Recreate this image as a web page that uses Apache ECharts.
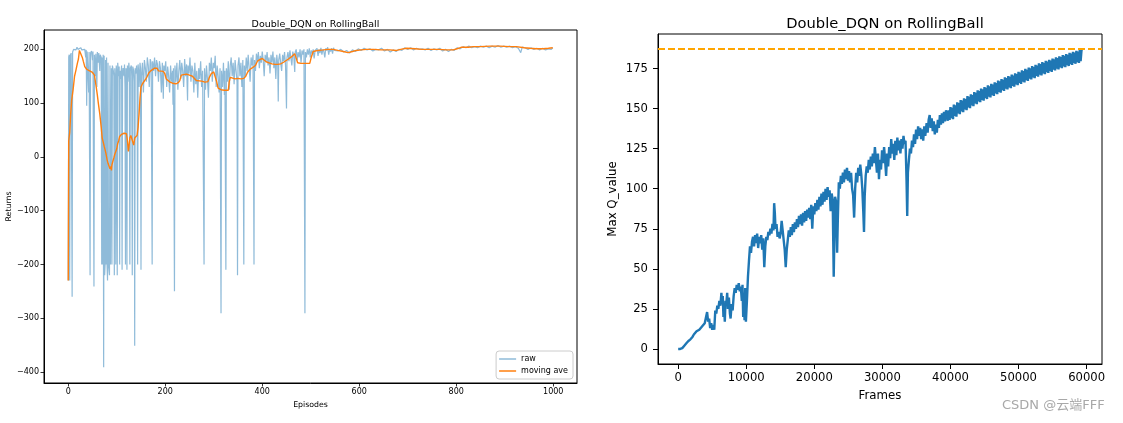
<!DOCTYPE html>
<html>
<head>
<meta charset="utf-8">
<script src="https://cdn.jsdelivr.net/npm/echarts@6/dist/echarts.min.js"></script>
<style>
html,body{margin:0;padding:0;background:#fff;}
#c{width:1123px;height:423px;}
</style>
</head>
<body>
<div id="c"></div>
<script>
// ---------- Left chart: returns per episode ----------
const leftTitle = 'Double_DQN on RollingBall';
const rightTitle = 'Double_DQN on RollingBall';
const leftXTicks = [0, 200, 400, 600, 800, 1000];
const leftYTicks = [-400, -300, -200, -100, 0, 100, 200];
const rightXTicks = [0, 10000, 20000, 30000, 40000, 50000, 60000];
const rightYTicks = [0, 25, 50, 75, 100, 125, 150, 175];
const maxQLine = 187.3;

const rawReturns = [
[0,-230],[1,186],[2,190],[3,-230],[4,188],[6,193],[7,190],[8,-260],[9,195],[11,200],[12,197],[14,203],[16,199],[18,204],[20,200],[22,202],[24,197],[26,203],[28,199],[30,201],[32,196],[34,200],[36,185],[37,199],[38,95],[39,196],[41,198],[42,120],[43,195],[45,-220],[46,193],[48,197],[50,180],[51,196],[53,-241],[54,190],[56,150],[57,192],[59,130],[60,195],[62,175],[63,193],[65,160],[66,190],[68,185],
[69,-200],[70,185],[71,-200],[72,190],[73,-391],[74,188],[75,-220],[76,-200],[77,180],[78,-200],[79,185],[80,-200],[81,-230],[82,175],[83,-200],[84,-200],[85,-220],[86,170],[87,-200],[88,-200],[89,165],
[90,-200],[91,170],[93,160],[94,150],[95,-220],[96,165],[97,140],[98,-200],[99,170],[100,155],[101,-220],[102,175],[104,150],[105,168],[106,-200],[107,160],[108,145],[110,170],[111,-210],[112,155],[113,165],[115,150],[116,172],[117,130],[118,-200],[119,165],[120,160],[121,-210],[122,170],[123,140],[125,175],[126,160],[127,-200],[128,165],[130,170],[131,150],[132,-220],[133,168],[135,160],[136,140],[137,-351],[138,165],[139,155],[141,170],[142,150],[143,-200],[144,172],[145,160],[146,130],[148,175],[149,165],[150,-210],
[151,150],[153,175],[155,120],[157,180],[159,165],[161,140],[163,185],[165,170],[167,130],[169,182],[171,175],[173,-200],[174,178],[176,160],[178,185],[180,150],[182,180],[184,172],[186,140],[188,178],[190,165],[192,120],[194,175],[196,108],[197,170],[199,160],[201,178],[203,130],[205,168],[207,150],[209,120],[211,170],[213,140],[215,160],[216,97],[217,165],[219,-250],[220,170],[222,140],[224,175],[226,125],[228,160],[230,180],[232,145],[234,175],[236,160],[238,130],[240,182],[242,150],[244,172],[246,105],[247,170],[249,155],[251,185],[253,140],[255,170],[257,160],[259,120],[261,175],[263,135],[265,160],[267,110],[269,165],[271,145],[273,178],[275,130],[277,160],[280,-200],[281,165],[283,125],[285,170],[287,145],[289,110],[291,175],[293,160],[295,185],[297,140],[299,175],[301,165],[303,188],[305,130],[307,170],[309,150],[311,120],[313,165],[315,-291],[316,160],[318,130],[320,175],[322,115],[323,160],[325,-210],[326,165],[328,140],[330,178],[332,125],[334,170],[336,185],[338,150],[340,175],[342,135],[344,180],[346,160],[348,140],[349,-220],[350,170],[352,185],[354,150],[356,175],[358,130],[360,180],[362,-200],[363,170],[365,150],[367,185],[369,160],[371,190],[373,165],[375,140],[377,185],[379,170],[381,190],[383,-200],[384,180],[386,160],[388,192],[390,178],[392,195],[394,165],[396,188],[398,175],[400,196],[402,180],[404,150],[406,190],[408,178],[410,195],[412,170],[414,185],[416,155],[418,190],[420,175],[422,196],[424,165],[426,185],[428,145],[430,190],[432,170],[433,103],[434,180],[436,192],[438,175],[440,160],[442,190],[444,178],[446,195],[448,170],[450,90],[451,185],[453,195],[455,178],[457,198],[459,185],[461,170],[463,196],[465,188],[467,158],[468,195],[470,200],[472,180],[474,195],[476,185],[478,200],[480,175],[482,198],[484,190],[486,200],[488,-291],[489,195],[491,185],[493,200],[495,190],[497,202],[499,185],[501,198],[503,192],[505,200],[507,183],[509,198],[511,195],[513,202],[515,188],[517,200],[519,193],[521,203],[523,190],[525,200],[527,196],[529,185],[531,202],[533,198],[535,204],[537,190],[539,200],[541,196],[543,202],[545,192],[547,203],[549,198],[551,201],
[556,197],[562,200],[568,195],[574,198],[580,193],[586,199],[592,196],[598,201],[604,198],[610,202],[616,199],[622,201],[628,197],[634,200],[640,199],[646,202],[652,197],[658,200],[664,195],[670,199],[676,196],[682,200],[688,198],[694,203],[700,200],[706,203],[712,199],[718,202],[724,200],[730,201],[736,199],[742,202],[748,198],[754,201],[760,199],[766,202],[772,197],[778,200],[784,196],[790,200],[796,198],[802,203],[808,201],[814,205],[820,203],[826,206],[832,203],[838,205],[844,203],[850,206],[856,204],[862,206],[868,203],[874,206],[880,204],[886,207],[892,204],[898,206],[904,204],[910,206],[916,203],[922,205],[928,202],[933,194],[936,204],[942,203],[948,200],[954,203],[960,200],[966,202],[972,199],[978,202],[984,199],[990,201],[996,200],[999,203]
];

const movingAve = [
[0,-230],[1,30],[3,45],[5,80],[7,105],[10,125],[13,150],[16,162],[19,175],[21,182],[23,198],[27,200],[29,185],[31,178],[34,168],[38,163],[44,160],[50,157],[54,152],[56,140],[58,128],[60,115],[62,100],[65,80],[68,55],[70,35],[72,28],[74,20],[76,13],[78,5],[80,-5],[82,-12],[84,-15],[86,-22],[88,-18],[89,-25],[90,-15],[92,-8],[94,-2],[96,5],[98,10],[100,15],[102,25],[104,30],[106,38],[108,35],[110,42],[112,45],[115,44],[118,45],[120,43],[122,30],[124,10],[125,18],[127,35],[129,40],[131,38],[133,28],[135,22],[137,35],[139,38],[142,40],[144,55],[146,80],[148,110],[150,130],[153,136],[156,138],[160,145],[163,150],[166,156],[170,160],[174,163],[178,165],[183,165],[186,160],[190,158],[196,159],[199,155],[202,145],[206,142],[210,139],[215,137],[222,136],[227,138],[230,142],[233,152],[238,153],[244,154],[250,152],[256,150],[260,148],[264,142],[268,140],[275,141],[282,139],[288,140],[291,148],[295,155],[300,158],[304,160],[306,140],[309,128],[315,125],[322,124],[330,124],[332,140],[334,148],[338,147],[344,145],[350,146],[356,145],[362,146],[366,150],[370,158],[375,163],[380,166],[386,170],[390,178],[395,181],[400,183],[404,180],[408,177],[414,175],[420,173],[426,172],[432,172],[438,173],[444,176],[448,178],[454,182],[460,186],[464,189],[467,192],[470,191],[473,175],[480,174],[490,174],[498,174],[501,185],[505,196],[515,198],[526,199],[536,200],[546,200],[556,198],[567,196],[577,194],[586,196],[594,198],[604,199],[615,200],[630,200],[645,199],[663,199],[677,198],[690,201],[698,202],[715,201],[730,200],[746,200],[765,200],[780,199],[794,199],[805,202],[811,204],[825,204],[835,205],[849,205],[870,206],[890,206],[910,205],[924,205],[940,203],[952,202],[965,201],[979,201],[990,202],[999,203]
];

// ---------- Right chart: max Q value per frame ----------
const maxQ = [
[0,0],[300,0],[600,0.5],[900,2],[1200,3.5],[1500,5],[1800,6],[2100,7.5],[2300,9],[2500,8.5],[2700,11],[2900,10],[3100,12],[3300,11.5],[3500,14],[3700,13],[3900,16],[4100,15],[4250,23],[4400,17],[4550,19],[4700,13],[4850,16],[5000,12],[5150,15],[5300,12],[5450,24],[5600,22],[5750,27],[5900,25],[6050,30],[6200,27],[6350,35],[6450,28],[6550,33],[6650,20],[6750,26],[6850,17],[6950,30],[7050,27],[7200,35],[7300,25],[7450,32],[7600,22],[7700,19],[7850,28],[8000,24],[8150,33],[8300,38],[8450,35],[8600,40],[8750,37],[8900,41],[9050,36],[9200,39],[9350,30],[9450,40],[9550,20],[9650,35],[9750,18],[9850,38],[9950,17],[10100,30],[10250,45],[10400,55],[10550,64],[10700,60],[10850,67],[11000,70],[11150,64],[11300,71],[11450,66],[11600,72],[11750,63],[11900,70],[12050,66],[12200,71],[12350,62],[12500,69],[12650,51],[12800,64],[12950,70],[13100,68],[13250,73],[13400,71],[13550,75],[13700,72],[13850,78],[14000,74],[14100,91],[14200,85],[14300,75],[14450,78],[14600,70],[14750,73],[14900,69],[15050,72],[15200,80],[15350,74],[15500,68],[15650,62],[15800,51],[15950,62],[16100,68],[16250,74],[16400,70],[16550,76],[16700,71],[16850,78],[17000,73],[17150,79],[17300,75],[17450,81],[17600,76],[17750,83],[17900,78],[18050,84],[18200,77],[18350,85],[18500,79],[18650,86],[18800,80],[18950,87],[19100,82],[19250,88],[19400,81],[19550,90],[19700,75],[19850,89],[20000,84],[20150,91],[20300,86],[20450,93],[20600,87],[20750,95],[20900,89],[21050,97],[21200,90],[21350,98],[21500,92],[21650,100],[21800,93],[21950,101],[22100,95],[22250,99],[22400,86],[22550,97],[22700,93],[22850,45],[22950,70],[23050,95],[23200,92],[23350,60],[23450,80],[23600,104],[23750,100],[23900,108],[24050,103],[24200,110],[24350,104],[24500,112],[24650,106],[24800,113],[24950,105],[25100,111],[25250,104],[25400,110],[25550,100],[25700,96],[25850,82],[26000,100],[26150,110],[26300,104],[26450,113],[26600,108],[26750,115],[26900,109],[27050,100],[27200,85],[27300,73],[27400,95],[27550,108],[27700,114],[27850,110],[28000,118],[28150,112],[28300,120],[28450,114],[28600,122],[28750,116],[28900,126],[29050,118],[29200,110],[29350,122],[29500,106],[29650,118],[29800,112],[29950,124],[30100,116],[30250,126],[30400,118],[30550,108],[30700,122],[30850,114],[31000,126],[31150,119],[31300,131],[31450,122],[31600,128],[31750,118],[31900,130],[32050,121],[32200,132],[32350,124],[32500,130],[32650,122],[32800,131],[32950,125],[33100,133],[33250,128],[33400,130],[33550,105],[33650,83],[33750,110],[33900,118],[34050,125],[34200,122],[34350,130],[34500,126],[34650,134],[34800,128],[34950,137],[35100,131],[35250,139],[35400,133],[35550,138],[35700,131],[35850,137],[36000,130],[36150,139],[36300,133],[36500,141],[36650,135],[36800,143],[36950,146],[37100,138],[37250,144],[37400,136],[37550,142],[37700,134],[37850,140],[38000,135],[38150,143],[38300,138],[38450,146],[38600,140],[38750,147],[38900,141],[39050,148],[39200,142],[39350,149],
[39500,149.5],[39625,142.5],[39750,149],[39875,143],[40000,151],[40125,144],[40250,150.5],[40375,143.5],[40500,152.5],[40625,145.5],[40750,152],[40875,145],[41000,154],[41125,147],[41250,153.5],[41375,146.5],[41500,155.3],[41625,148.3],[41750,155],[41875,147.8],[42000,156.5],[42125,149.5],[42250,156],[42375,149],[42500,157.8],[42625,150.8],[42750,157.3],[42875,150.3],[43000,159],[43125,152],[43250,158.5],[43375,151.5],[43500,160.3],[43625,153.3],[43750,159.8],[43875,152.8],[44000,161.5],[44125,154.5],[44250,161],[44375,154],[44500,162.5],[44625,155.5],[44750,162],[44875,155],[45000,163.5],[45125,156.5],[45250,163],[45375,156],[45500,164.5],[45625,157.5],[45750,164],[45875,157],[46000,165.5],[46125,158.5],[46250,165],[46375,158],[46500,166.5],[46625,159.5],[46750,166],[46875,159],[47000,167.5],[47125,160.5],[47250,167],[47375,160],[47500,168.5],[47625,161.5],[47750,168],[47875,161],[48000,169.5],[48125,162.5],[48250,169],[48375,162],[48500,170.3],[48625,163.3],[48750,169.8],[48875,162.8],[49000,171.2],[49125,164.2],[49250,170.7],[49375,163.7],[49500,172.1],[49625,165.1],[49750,171.6],[49875,164.6],[50000,173],[50125,166],[50250,172.5],[50375,165.5],[50500,173.9],[50625,166.9],[50750,173.4],[50875,166.4],[51000,174.8],[51125,167.8],[51250,174.3],[51375,167.3],[51500,175.7],[51625,168.7],[51750,175.2],[51875,168.2],[52000,176.5],[52125,169.5],[52250,176],[52375,169],[52500,177.4],[52625,170.4],[52750,176.9],[52875,169.9],[53000,178.3],[53125,171.3],[53250,177.8],[53375,170.8],[53500,179],[53625,172],[53750,178.5],[53875,171.5],[54000,179.8],[54125,172.8],[54250,179.3],[54375,172.3],[54500,180.5],[54625,173.5],[54750,180],[54875,173],[55000,181.3],[55125,174.3],[55250,180.8],[55375,173.8],[55500,182],[55625,175],[55750,181.5],[55875,174.5],[56000,182.7],[56125,175.7],[56250,182.2],[56375,175.2],[56500,183.4],[56625,176.4],[56750,182.9],[56875,175.9],[57000,184.1],[57125,177.1],[57250,183.6],[57375,176.6],[57500,184.8],[57625,177.8],[57750,184.3],[57875,177.3],[58000,185.5],[58125,178.5],[58250,185],[58375,178],[58500,186.1],[58625,179.1],[58750,185.6],[58875,178.6],[59000,186.7],[59125,179.7],[59250,186.2],[59300,187.3]
];

const FONT = 'DejaVu Sans, "Noto Sans CJK SC", sans-serif';
const minusFmt = v => String(v).replace('-', '\u2212');
const plainFmt = v => String(v);
const axisLineStyle = {show: true, onZero: false, lineStyle: {color: '#000', width: 1}};

const chart = echarts.init(document.getElementById('c'), null, {renderer: 'canvas'});
chart.setOption({
  animation: false,
  backgroundColor: '#fff',
  textStyle: {fontFamily: FONT},
  title: [
    {text: leftTitle, left: 310.5, top: 15, textAlign: 'center',
     textStyle: {fontFamily: FONT, fontSize: 9.5, fontWeight: 'normal', color: '#000'}},
    {text: rightTitle, left: 880, top: 12, textAlign: 'center',
     textStyle: {fontFamily: FONT, fontSize: 14.7, fontWeight: 'normal', color: '#000'}}
  ],
  grid: [
    {left: 44, top: 30, width: 533, height: 353, show: true, borderColor: '#000', borderWidth: 1, backgroundColor: 'transparent'},
    {left: 658, top: 34, width: 444, height: 330, show: true, borderColor: '#000', borderWidth: 1, backgroundColor: 'transparent'}
  ],
  legend: {
    data: [
      {name: 'raw', itemStyle: {color: '#1f77b4', opacity: 0.5}},
      {name: 'moving ave', itemStyle: {color: '#ff7f0e'}}
    ],
    orient: 'vertical', right: 550, bottom: 44,
    icon: 'rect', itemWidth: 17, itemHeight: 1.5, itemGap: 4,
    padding: [4, 5, 4, 3],
    backgroundColor: 'rgba(255,255,255,0.8)', borderColor: '#ccc', borderWidth: 1, borderRadius: 3,
    textStyle: {fontFamily: FONT, fontSize: 8, color: '#000'}
  },
  xAxis: [
    {type: 'value', gridIndex: 0, min: -50, max: 1049,
     name: 'Episodes', nameLocation: 'middle', nameGap: 15,
     nameTextStyle: {fontFamily: FONT, fontSize: 7.8, color: '#000'},
     axisLine: axisLineStyle,
     axisTick: {show: true, inside: false, length: 3.5, lineStyle: {color: '#000', width: 0.8}, customValues: leftXTicks},
     axisLabel: {fontFamily: FONT, fontSize: 8, color: '#000', margin: 5, customValues: leftXTicks, formatter: minusFmt},
     splitLine: {show: false}},
    {type: 'value', gridIndex: 1, min: -2965, max: 62265,
     name: 'Frames', nameLocation: 'middle', nameGap: 26,
     nameTextStyle: {fontFamily: FONT, fontSize: 11.8, color: '#000'},
     axisLine: axisLineStyle,
     axisTick: {show: true, length: 5, lineStyle: {color: '#000', width: 1}, customValues: rightXTicks},
     axisLabel: {fontFamily: FONT, fontSize: 11.6, color: '#000', margin: 8, customValues: rightXTicks, formatter: plainFmt},
     splitLine: {show: false}}
  ],
  yAxis: [
    {type: 'value', gridIndex: 0, min: -420.5, max: 236,
     name: 'Returns', nameLocation: 'middle', nameGap: 31, nameRotate: 90,
     nameTextStyle: {fontFamily: FONT, fontSize: 7.8, color: '#000'},
     axisLine: axisLineStyle,
     axisTick: {show: true, length: 3.5, lineStyle: {color: '#000', width: 0.8}, customValues: leftYTicks},
     axisLabel: {fontFamily: FONT, fontSize: 8, color: '#000', margin: 5, customValues: leftYTicks, formatter: minusFmt},
     splitLine: {show: false}},
    {type: 'value', gridIndex: 1, min: -9.4, max: 196.6,
     name: 'Max Q_value', nameLocation: 'middle', nameGap: 39, nameRotate: 90,
     nameTextStyle: {fontFamily: FONT, fontSize: 11.8, color: '#000'},
     axisLine: axisLineStyle,
     axisTick: {show: true, length: 5, lineStyle: {color: '#000', width: 1}, customValues: rightYTicks},
     axisLabel: {fontFamily: FONT, fontSize: 11.6, color: '#000', margin: 10, customValues: rightYTicks, formatter: plainFmt},
     splitLine: {show: false}}
  ],
  series: [
    {name: 'raw', type: 'line', xAxisIndex: 0, yAxisIndex: 0, data: rawReturns,
     showSymbol: false, symbol: 'none', color: '#1f77b4',
     lineStyle: {color: '#1f77b4', width: 1.2, opacity: 0.5}, z: 2},
    {name: 'moving ave', type: 'line', xAxisIndex: 0, yAxisIndex: 0, data: movingAve,
     showSymbol: false, symbol: 'none', color: '#ff7f0e',
     lineStyle: {color: '#ff7f0e', width: 1.4}, z: 3},
    {name: 'maxq', type: 'line', xAxisIndex: 1, yAxisIndex: 1, data: maxQ,
     showSymbol: false, symbol: 'none', color: '#1f77b4',
     lineStyle: {color: '#1f77b4', width: 2.4}, z: 2,
     markLine: {silent: true, symbol: 'none', label: {show: false},
       lineStyle: {color: '#ffa500', type: [7, 3], width: 2},
       data: [{yAxis: maxQLine}]}}
  ],
  graphic: [
    {type: 'text', left: 1002, top: 399,
     style: {text: 'CSDN @云端FFF', fill: '#a8a8a8', fontSize: 13, fontFamily: FONT}}
  ]
});
</script>
</body>
</html>
